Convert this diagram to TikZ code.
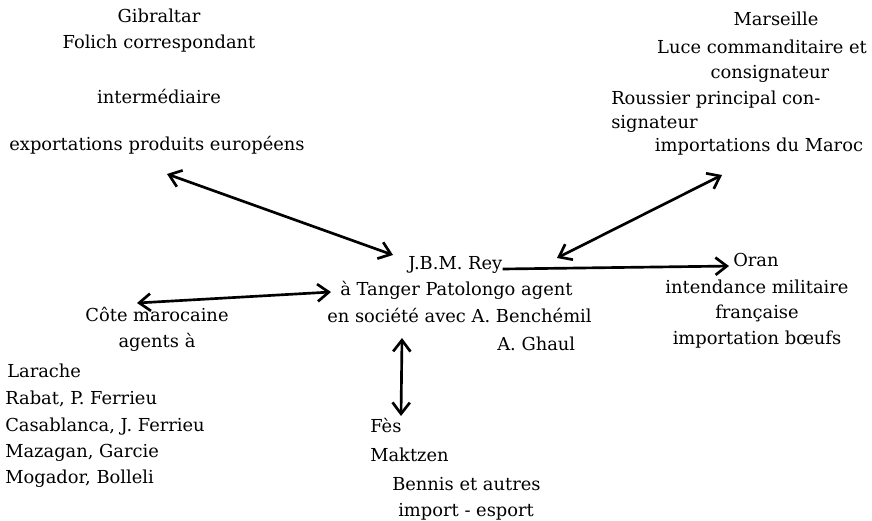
\documentclass[tikz,border=0pt]{standalone}
\usepackage{fontspec}
\setmainfont{DejaVu Serif}
\usepackage{tikz}
\usetikzlibrary{arrows.meta}
\tikzset{
  lbl/.style={inner sep=0pt, font=\fontsize{13.4}{19}\selectfont},
  barb/.tip={Straight Barb[length=8.5pt,width=13pt]},
  link/.style={line width=2pt, barb-barb},
  onelink/.style={line width=2pt, -barb}
}

\begin{document}
\begin{tikzpicture}[x=0.75pt,y=-0.75pt]
\useasboundingbox (0,0) rectangle (872,521);

\node[lbl,anchor=base] (gib) at (159,22) {Gibraltar};
\node[lbl,anchor=base] (fol) at (159,48) {Folich correspondant};
\node[lbl,anchor=base] (inter) at (159,103) {intermédiaire};
\node[lbl,anchor=base] (expo) at (157,150) {exportations produits européens};

\node[lbl,anchor=base] (mar) at (776,26) {Marseille};
\node[lbl,anchor=base] (luce) at (762,53) {Luce commanditaire et};
\node[lbl,anchor=base] (cons) at (770,78) {consignateur};
\node[lbl,anchor=base west] (rous) at (611,104) {Roussier principal con-};
\node[lbl,anchor=base west] (sign) at (611,128) {signateur};
\node[lbl,anchor=base] (impm) at (759,151) {importations du Maroc};

\node[lbl,anchor=base west] (rey) at (408,269) {J.B.M. Rey};
\node[lbl,anchor=base west] (tang) at (340,295) {à Tanger Patolongo agent};
\node[lbl,anchor=base west] (soc) at (327,322) {en société avec A. Benchémil};
\node[lbl,anchor=base west] (ghaul) at (497,350) {A. Ghaul};

\node[lbl,anchor=base] (cote) at (157,321) {Côte marocaine};
\node[lbl,anchor=base] (agts) at (157,347) {agents à};
\node[lbl,anchor=base west] (lar) at (7,377) {Larache};
\node[lbl,anchor=base west] (rab) at (5,404) {Rabat, P. Ferrieu};
\node[lbl,anchor=base west] (casa) at (5,431) {Casablanca, J. Ferrieu};
\node[lbl,anchor=base west] (maz) at (5,457) {Mazagan, Garcie};
\node[lbl,anchor=base west] (mog) at (5,483) {Mogador, Bolleli};

\node[lbl,anchor=base west] (oran) at (733,266) {Oran};
\node[lbl,anchor=base] (intd) at (757,293) {intendance militaire};
\node[lbl,anchor=base] (fra) at (757,318) {française};
\node[lbl,anchor=base] (impb) at (757,344) {importation bœufs};

\node[lbl,anchor=base west] (fes) at (370,432) {Fès};
\node[lbl,anchor=base west] (mak) at (370,461) {Maktzen};
\node[lbl,anchor=base west] (ben) at (392,490) {Bennis et autres};
\node[lbl,anchor=base west] (imp) at (398,516) {import - esport};

\coordinate (gibend) at (167,174);
\coordinate (reyg) at (393,255);
\coordinate (marend) at (722,175);
\coordinate (reym) at (557,258);
\coordinate (cotend) at (137,303);
\coordinate (tangc) at (331,292);
\coordinate (socf) at (402,338);
\coordinate (fesend) at (401,416);

\draw[link] (gibend) -- (reyg);
\draw[link] (marend) -- (reym);
\draw[link] (cotend) -- (tangc);
\draw[link] (socf) -- (fesend);
\draw[onelink,shorten >=3pt] (rey.base east) -- (oran.base west);
\end{tikzpicture}
\end{document}
